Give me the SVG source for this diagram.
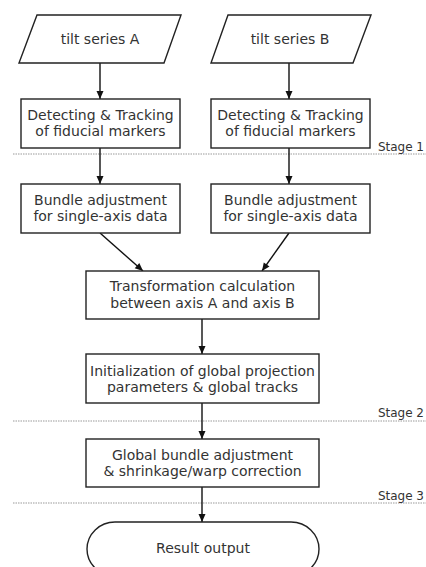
<svg xmlns="http://www.w3.org/2000/svg" width="426" height="567" viewBox="0 0 426 567">
<defs>
<marker id="ah" markerWidth="10" markerHeight="10" refX="9" refY="5" orient="auto" markerUnits="userSpaceOnUse">
<path d="M1,1.5 L9,5 L1,8.5 Z" fill="#111"/>
</marker>
<style>
.n{fill:#fff;stroke:#222;stroke-width:1.4}
.t{font-family:"DejaVu Sans",sans-serif;font-size:14px;fill:#333;text-anchor:middle}
.s{font-family:"DejaVu Sans",sans-serif;font-size:12px;fill:#333;text-anchor:end}
.c{stroke:#111;stroke-width:1.4;fill:none;marker-end:url(#ah)}
.d{stroke:#999;stroke-width:1;stroke-dasharray:1.5 1;fill:none}
</style>
</defs>
<rect width="426" height="567" fill="#fff"/>
<g id="stages">
<line class="d" x1="13" y1="154" x2="426" y2="154"/>
<text class="s" x="424" y="151">Stage 1</text>
<line class="d" x1="13" y1="421" x2="426" y2="421"/>
<text class="s" x="424" y="417">Stage 2</text>
<line class="d" x1="13" y1="503" x2="426" y2="503"/>
<text class="s" x="424" y="500">Stage 3</text>
</g>
<g id="connectors">
<line class="c" x1="100" y1="63" x2="100" y2="99"/>
<line class="c" x1="289" y1="63" x2="289" y2="99"/>
<line class="c" x1="100" y1="148" x2="100" y2="184"/>
<line class="c" x1="289" y1="148" x2="289" y2="184"/>
<line class="c" x1="100" y1="233" x2="143" y2="271"/>
<line class="c" x1="289" y1="233" x2="262" y2="271"/>
<line class="c" x1="202" y1="319" x2="202" y2="354"/>
<line class="c" x1="202" y1="403" x2="202" y2="439"/>
<line class="c" x1="202" y1="487" x2="202" y2="522"/>
</g>
<g id="tiltA">
<polygon class="n" points="37,15 181,15 164,63 19,63"/>
<text class="t" x="100" y="44">tilt series A</text>
</g>
<g id="tiltB">
<polygon class="n" points="228,15 371,15 353,63 211,63"/>
<text class="t" x="290" y="44">tilt series B</text>
</g>
<g id="detectA">
<rect class="n" x="21" y="99" width="159" height="49"/>
<text class="t" x="100.5" y="120">Detecting &amp; Tracking</text>
<text class="t" x="100.5" y="136">of fiducial markers</text>
</g>
<g id="detectB">
<rect class="n" x="211" y="99" width="159" height="49"/>
<text class="t" x="290.5" y="120">Detecting &amp; Tracking</text>
<text class="t" x="290.5" y="136">of fiducial markers</text>
</g>
<g id="bundleA">
<rect class="n" x="21" y="184" width="159" height="49"/>
<text class="t" x="100.5" y="205">Bundle adjustment</text>
<text class="t" x="100.5" y="221">for single-axis data</text>
</g>
<g id="bundleB">
<rect class="n" x="211" y="184" width="159" height="49"/>
<text class="t" x="290.5" y="205">Bundle adjustment</text>
<text class="t" x="290.5" y="221">for single-axis data</text>
</g>
<g id="transform">
<rect class="n" x="86" y="271" width="233" height="48"/>
<text class="t" x="202.5" y="291">Transformation calculation</text>
<text class="t" x="202.5" y="308">between axis A and axis B</text>
</g>
<g id="init">
<rect class="n" x="86" y="354" width="233" height="49"/>
<text class="t" x="202.5" y="376">Initialization of global projection</text>
<text class="t" x="202.5" y="392">parameters &amp; global tracks</text>
</g>
<g id="global">
<rect class="n" x="86" y="439" width="233" height="48"/>
<text class="t" x="202.5" y="460">Global bundle adjustment</text>
<text class="t" x="202.5" y="476">&amp; shrinkage/warp correction</text>
</g>
<g id="result">
<rect class="n" x="87" y="522" width="232" height="54" rx="28" ry="27"/>
<text class="t" x="203" y="553">Result output</text>
</g>
</svg>
